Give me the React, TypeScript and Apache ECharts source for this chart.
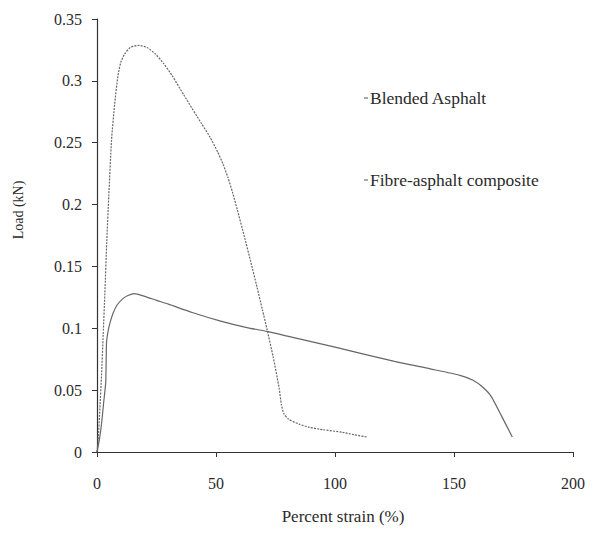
import React, { useEffect, useRef } from "react";
import * as echarts from "echarts";

const seriesNames = ["Blended Asphalt", "Fibre-asphalt composite"];

const blendedStrain = [0, 0.5, 1.2, 1.9, 2.6, 3.3, 4.1, 4.95, 6.1, 7.4, 8.8, 10, 11.6, 14, 17.7, 21, 24.6, 28, 31.5, 36.5, 43.9, 47.5, 50.7, 53, 55, 57, 59, 61.8, 64.5, 67.2, 69.5, 71.4, 74, 76.5, 77.5, 78.5, 80.5, 85, 89.2, 95, 103, 108, 113.3];
const blendedLoad = [0, 0.01, 0.035, 0.062, 0.095, 0.128, 0.17, 0.207, 0.252, 0.281, 0.304, 0.315, 0.3216, 0.327, 0.3287, 0.327, 0.3216, 0.314, 0.3044, 0.2885, 0.2655, 0.2545, 0.2425, 0.2325, 0.222, 0.2095, 0.1955, 0.175, 0.1545, 0.1335, 0.115, 0.0995, 0.077, 0.052, 0.038, 0.031, 0.0265, 0.0225, 0.02, 0.018, 0.016, 0.014, 0.0121];

const fibreStrain = [0, 1, 1.9, 2.8, 3.3, 3.7, 4.0, 4.6, 5.4, 6.7, 8.5, 10.9, 13, 15.7, 20, 25, 30, 40, 52, 63, 71.4, 80, 100, 125, 140, 152.5, 158, 162, 165.6, 170, 174.5];
const fibreLoad = [0, 0.01, 0.0226, 0.04, 0.049, 0.057, 0.0885, 0.097, 0.104, 0.112, 0.119, 0.124, 0.1265, 0.128, 0.1258, 0.1226, 0.1195, 0.1128, 0.1058, 0.1005, 0.0975, 0.0937, 0.0848, 0.0732, 0.0672, 0.062, 0.058, 0.0525, 0.045, 0.029, 0.0121];

const xTitle = "Percent strain (%)";
const yTitle = "Load (kN)";

const FONT = "'Liberation Serif', 'Times New Roman', serif";
const TEXT = "#2a2a2a";

export default function App() {
  const ref = useRef<HTMLDivElement>(null);
  useEffect(() => {
    if (!ref.current) return;
    const chart = echarts.init(ref.current, null, { renderer: "svg" });
    const blended = blendedStrain.map((x, i) => [x, blendedLoad[i]]);
    const fibre = fibreStrain.map((x, i) => [x, fibreLoad[i]]);
    chart.setOption({
      animation: false,
      backgroundColor: "#ffffff",
      textStyle: { fontFamily: FONT, color: TEXT },
      grid: { left: 89, right: 7, top: 11, bottom: 68, containLabel: false },
      legend: {
        orient: "vertical",
        left: 351,
        top: 76,
        itemGap: 64,
        itemWidth: 4,
        itemHeight: 1,
        icon: "rect",
        textStyle: { fontFamily: FONT, fontSize: 17.5, color: TEXT, padding: [0, 0, 0, -3] },
        data: seriesNames.map((n) => ({ name: n, itemStyle: { color: "#555" } })),
      },
      xAxis: {
        type: "value",
        min: 0,
        max: 200,
        interval: 50,
        name: xTitle,
        nameLocation: "middle",
        nameGap: 56,
        nameTextStyle: { fontFamily: FONT, fontSize: 17, color: TEXT, verticalAlign: "top", padding: [0, 0, 0, 16] },
        axisLine: { lineStyle: { color: "#333", width: 1.2 } },
        axisTick: { show: true, inside: false, length: 5, lineStyle: { color: "#333" } },
        axisLabel: { fontFamily: FONT, fontSize: 16, color: TEXT, margin: 23 },
        splitLine: { show: false },
      },
      yAxis: {
        type: "value",
        min: 0,
        max: 0.35,
        interval: 0.05,
        axisLine: { show: true, lineStyle: { color: "#333", width: 1.2 } },
        axisTick: { show: true, inside: false, length: 5, lineStyle: { color: "#333" } },
        axisLabel: { fontFamily: FONT, fontSize: 16, color: TEXT, margin: 15 },
        splitLine: { show: false },
      },
      graphic: [
        {
          type: "text",
          x: 10,
          y: 202,
          rotation: Math.PI / 2,
          style: {
            text: yTitle,
            fontFamily: FONT,
            fontSize: 14,
            fill: TEXT,
            align: "center",
            verticalAlign: "middle",
          },
        },
      ],
      series: [
        {
          name: seriesNames[0],
          type: "line",
          data: blended,
          showSymbol: false,
          smooth: 0.2,
          lineStyle: { color: "#666", width: 1.2, type: [2, 1.2] },
          itemStyle: { color: "#555" },
        },
        {
          name: seriesNames[1],
          type: "line",
          data: fibre,
          showSymbol: false,
          smooth: 0.2,
          lineStyle: { color: "#666", width: 1.2 },
          itemStyle: { color: "#555" },
        },
      ],
    });
    return () => chart.dispose();
  }, []);
  return <div ref={ref} style={{ width: 580, height: 522 }} />;
}
